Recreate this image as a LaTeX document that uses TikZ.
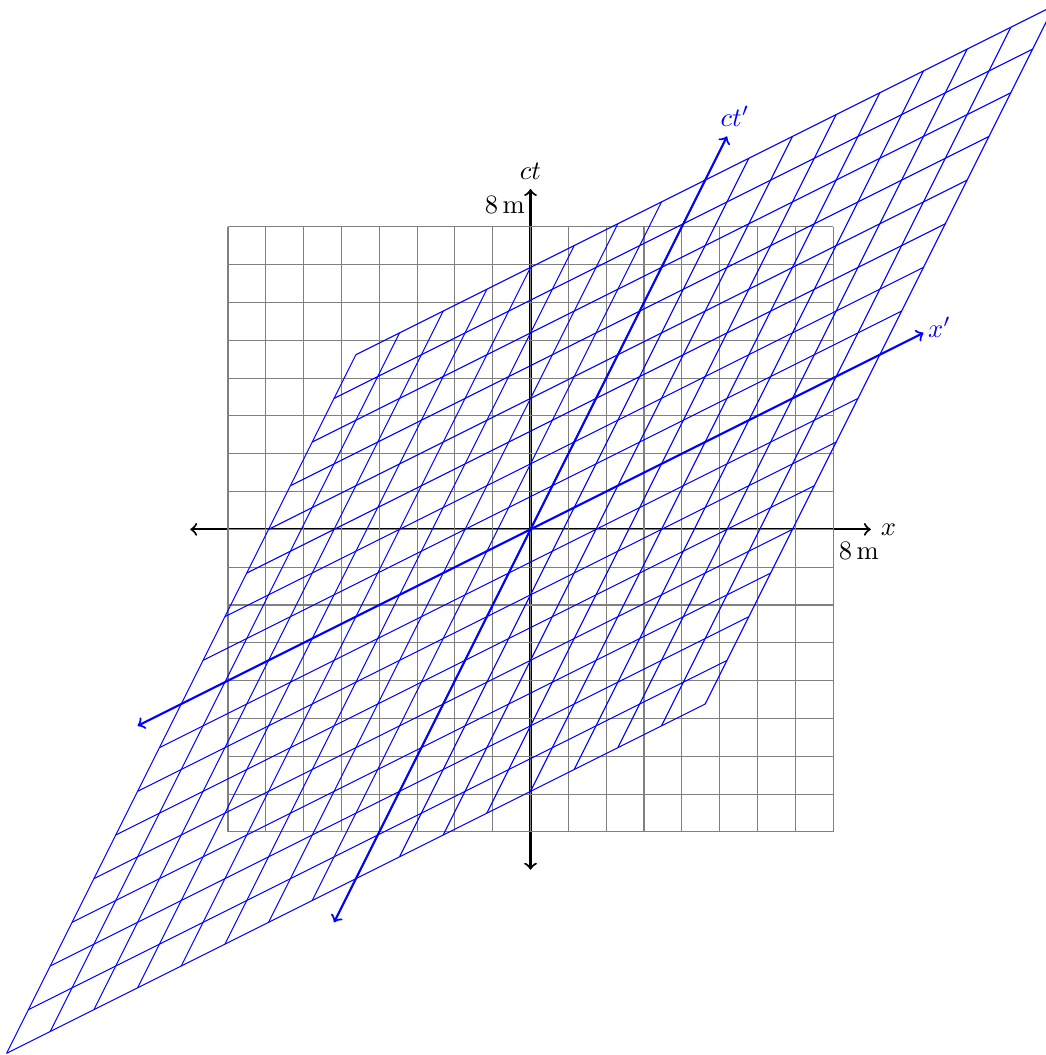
\documentclass[tikz,border=0pt]{standalone}
\usepackage{amsmath}
\usepackage{tikz}
\usetikzlibrary{positioning,arrows}

\begin{document}
\begin{tikzpicture}[
    x=0.5cm, y=0.5cm,
    axis/.style={<->, thick},
    restgrid/.style={gray},
    movegrid/.style={blue},
    lorentz/.style={cm={1.1547,0.57735,0.57735,1.1547,(0,0)}}
]
    \useasboundingbox (-14.03,-13.9) rectangle (13.62,14.0);

    % rest frame axes
    \draw[axis] (-9,0) -- (9,0) node[right] (xlab) {$x$};
    \draw[axis] (0,-9) -- (0,9) node[above] (ctlab) {$ct$};
    \node[below left, inner sep=2pt] (ctmark) at (0,8.95) {$8\,\mathrm{m}$};
    \node[below right, inner sep=2pt] (xmark) at (8,-0.19) {$8\,\mathrm{m}$};

    % rest frame grid
    \foreach \i in {-8,...,8} {
        \draw[restgrid] (\i,-8) -- (\i,8);
        \draw[restgrid] (-8,\i) -- (8,\i);
    }

    % moving frame
    \begin{scope}[lorentz]
        \foreach \i in {-8,...,8} {
            \draw[movegrid] (\i,-8) -- (\i,8);
            \draw[movegrid] (-8,\i) -- (8,\i);
        }
        \draw[axis, blue] (-9,0) -- (9,0) node[right, xshift=-2pt, yshift=2pt] (xplab) {$x'$};
        \draw[axis, blue] (0,-9) -- (0,9) node[above, xshift=3pt] (ctplab) {$ct'$};
    \end{scope}
\end{tikzpicture}
\end{document}
